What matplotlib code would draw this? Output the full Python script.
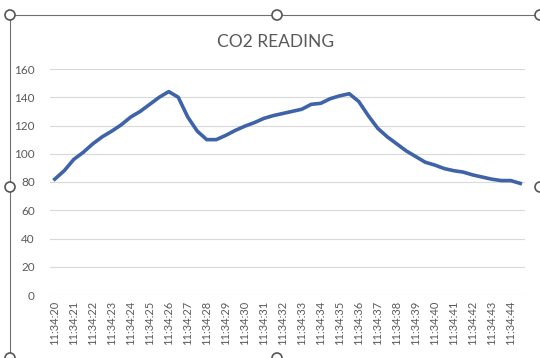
import matplotlib.pyplot as plt
from matplotlib.patches import Circle
from matplotlib.lines import Line2D

plt.rcParams['font.family'] = ['Lato', 'DejaVu Sans']

# two readings per second, every second one labelled
seconds = list(range(20, 45))
times = []
for s in seconds:
    times += [f"11:34:{s:02d}", f"11:34:{s:02d}"]

co2 = [82, 88, 96, 101, 107, 112, 116, 120.5, 126, 130,
       135, 140, 144, 140, 126, 116, 110, 110, 113, 116.5,
       119.5, 122, 125, 127, 128.5, 130, 131.5, 135, 135.7, 139,
       141, 142.5, 137, 127, 118, 112, 107, 102, 98, 94,
       92, 89.5, 88, 87, 85, 83.5, 82, 81, 81, 79]

yticks = [0, 20, 40, 60, 80, 100, 120, 140, 160]

W, H, DPI = 540, 358, 100
fig = plt.figure(figsize=(W / DPI, H / DPI), dpi=DPI)
ax = fig.add_axes([50 / W, 1 - 295 / H, 475 / W, 226 / H])

idx = list(range(len(co2)))
ax.plot(idx, co2, color='#3e63a8', lw=2.6, solid_joinstyle='round')

ax.set_xlim(-0.5, len(co2) - 0.5)
ax.set_ylim(0, 160)
ax.set_yticks(yticks)
ax.set_xticks(idx[::2])
ax.set_xticklabels(times[::2], rotation=90, fontsize=8, color='#595959')
ax.tick_params(axis='y', labelsize=8.5, labelcolor='#595959', length=0, pad=11)
ax.tick_params(axis='x', length=0, pad=4)
ax.grid(axis='y', color='#d9d9d9', lw=0.8)
ax.set_axisbelow(True)
for sp in ax.spines.values():
    sp.set_visible(False)

fig.text(276 / W, 1 - 42 / H, 'CO2 READING', ha='center', va='center',
         fontsize=12.5, color='#595959')

# chart frame with selection handles
edge = '#707070'
fig.add_artist(Line2D([10 / W, 1], [1 - 15 / H, 1 - 15 / H], color=edge, lw=0.8))
fig.add_artist(Line2D([9.5 / W, 9.5 / W], [0, 1 - 15 / H], color=edge, lw=0.8))
for px, py in [(10, 15), (277, 15), (540, 15), (10, 187), (540, 187), (277, 358), (10, 358)]:
    fig.add_artist(Circle((px / DPI, (H - py) / DPI), 5 / DPI, transform=fig.dpi_scale_trans,
                          facecolor='white', edgecolor='#555555', lw=1.2, zorder=10))

fig.savefig('out.png', dpi=DPI)
